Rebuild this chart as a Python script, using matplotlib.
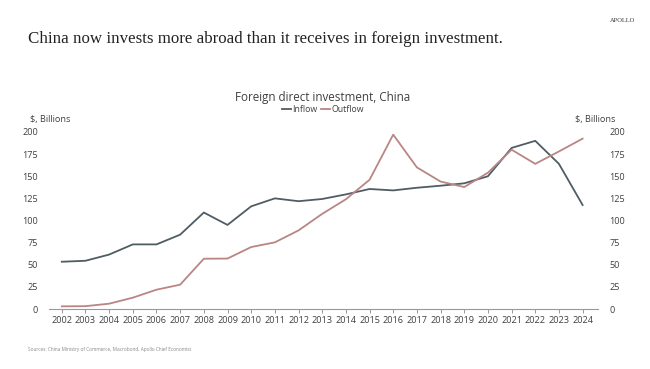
import matplotlib
matplotlib.use("Agg")
import matplotlib.pyplot as plt
from matplotlib.lines import Line2D

years = list(range(2002, 2025))
inflow = [53.4, 54.5, 61.5, 73.0, 73.0, 84.0, 109.0, 95.0, 116.0, 125.0, 121.8, 124.3,
          129.5, 135.6, 134.0, 137.0, 139.3, 142.0, 150.0, 182.0, 190.0, 164.0, 117.5]
outflow = [3.0, 3.2, 6.0, 12.8, 21.8, 27.5, 56.8, 57.0, 70.0, 75.3, 88.8, 107.5,
           124.0, 146.0, 197.0, 160.0, 144.0, 137.8, 154.0, 180.0, 164.0, 178.0, 192.5]
yticks = [0, 25, 50, 75, 100, 125, 150, 175, 200]

c_in = "#4f5d63"
c_out = "#b98585"
txt = "#404040"
sans = ["Open Sans", "DejaVu Sans"]

fig = plt.figure(figsize=(6.5, 3.69), dpi=100)
fig.patch.set_facecolor("white")
ax = fig.add_axes([0.0754, 0.1626, 0.8446, 0.4797])
ax.plot(years, inflow, color=c_in, lw=1.3)
ax.plot(years, outflow, color=c_out, lw=1.3)
ax.set_xlim(2001.46, 2024.65)
ax.set_ylim(0, 200)
ax.set_xticks(years)
ax.set_xticklabels([str(y) for y in years], fontsize=6.6, color=txt, family=sans)
ax.set_yticks(yticks)
ax.set_yticklabels([str(v) for v in yticks], fontsize=6.6, color=txt, family=sans)
ax.tick_params(axis="x", length=3, width=0.6, color="#888888", pad=2)
ax.tick_params(axis="y", length=0, pad=8, labelright=True, right=False)
for s in ["top", "right", "left"]:
    ax.spines[s].set_visible(False)
ax.spines["bottom"].set_color("#999999")
ax.spines["bottom"].set_linewidth(0.8)

fig.text(0.043, 0.893, "China now invests more abroad than it receives in foreign investment.",
         fontsize=12.2, family=["Liberation Serif", "DejaVu Serif"], color="#222222", va="center")
fig.text(0.977, 0.945, "APOLLO", fontsize=4.6, family=["Liberation Serif", "DejaVu Serif"],
         color="#333333", ha="right", va="center")
fig.text(0.496, 0.737, "Foreign direct investment, China", fontsize=8.4, family=sans,
         color=txt, ha="center", va="center")
handles = [Line2D([], [], color=c_in, lw=1.3), Line2D([], [], color=c_out, lw=1.3)]
fig.legend(handles, ["Inflow", "Outflow"], loc="center", bbox_to_anchor=(0.497, 0.702),
           ncol=2, frameon=False, prop={"family": sans, "size": 6.3}, handlelength=1.0,
           handletextpad=0.2, columnspacing=0.4, labelcolor=txt)
fig.text(0.046, 0.677, "$, Billions", fontsize=6.6, family=sans, color=txt, va="center")
fig.text(0.885, 0.677, "$, Billions", fontsize=6.6, family=sans, color=txt, va="center")
fig.text(0.043, 0.054, "Sources: China Ministry of Commerce, Macrobond, Apollo Chief Economist",
         fontsize=3.4, family=sans, color="#888888", va="center")

fig.savefig("out.png", dpi=100, facecolor="white")
